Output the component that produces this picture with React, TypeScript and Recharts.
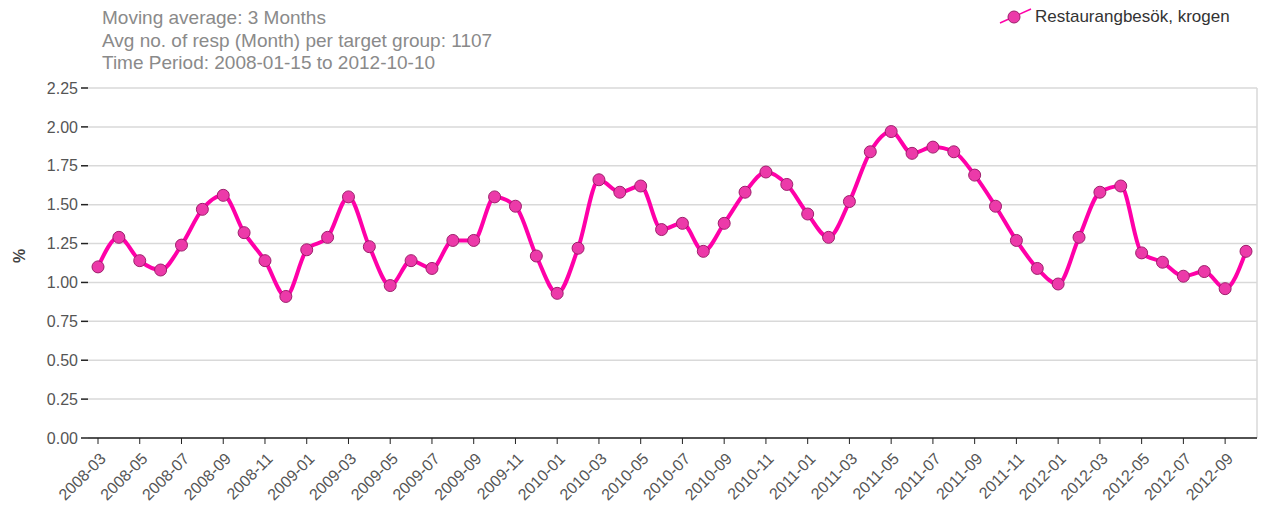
import * as React from "react";
import {
  CartesianGrid,
  Line,
  LineChart,
  XAxis,
  YAxis,
} from "recharts";

const MONTHS = [
  "2008-03", "2008-04", "2008-05", "2008-06", "2008-07", "2008-08", "2008-09", "2008-10", "2008-11", "2008-12",
  "2009-01", "2009-02", "2009-03", "2009-04", "2009-05", "2009-06", "2009-07", "2009-08", "2009-09", "2009-10",
  "2009-11", "2009-12", "2010-01", "2010-02", "2010-03", "2010-04", "2010-05", "2010-06", "2010-07", "2010-08",
  "2010-09", "2010-10", "2010-11", "2010-12", "2011-01", "2011-02", "2011-03", "2011-04", "2011-05", "2011-06",
  "2011-07", "2011-08", "2011-09", "2011-10", "2011-11", "2011-12", "2012-01", "2012-02", "2012-03", "2012-04",
  "2012-05", "2012-06", "2012-07", "2012-08", "2012-09", "2012-10",
];

const KROGEN = [
  1.1, 1.29, 1.14, 1.08, 1.24, 1.47, 1.56, 1.32, 1.14, 0.91,
  1.21, 1.29, 1.55, 1.23, 0.98, 1.14, 1.09, 1.27, 1.27, 1.55,
  1.49, 1.17, 0.93, 1.22, 1.66, 1.58, 1.62, 1.34, 1.38, 1.2,
  1.38, 1.58, 1.71, 1.63, 1.44, 1.29, 1.52, 1.84, 1.97, 1.83,
  1.87, 1.84, 1.69, 1.49, 1.27, 1.09, 0.99, 1.29, 1.58, 1.62,
  1.19, 1.13, 1.04, 1.07, 0.96, 1.2,
];

const Y_TICKS = [0, 0.25, 0.5, 0.75, 1, 1.25, 1.5, 1.75, 2, 2.25];

const HEADER_LINES = [
  "Moving average: 3 Months",
  "Avg no. of resp (Month) per target group: 1107",
  "Time Period: 2008-01-15 to 2012-10-10",
];

const SERIES_NAME = "Restaurangbesök, krogen";

const LINE = "#ff00a8";
const DOT_FILL = "#ec3aa9";
const DOT_STROKE = "#9e1f6c";
const FONT = "'Liberation Sans', Arial, sans-serif";

const data = MONTHS.map((m, i) => ({ month: m, value: KROGEN[i] }));

// rotated month label, its end sits just right of and below the tick
function XTick({ x, y, payload }: any) {
  return (
    <g transform={`translate(${x},${y})`}>
      <text
        x={-3.5}
        y={16}
        textAnchor="end"
        transform="rotate(-45)"
        fill="#555"
        fontSize={16}
        fontFamily={FONT}
      >
        {payload.value}
      </text>
    </g>
  );
}

export default function App() {
  return (
    <div style={{ position: "absolute", left: 0, top: 0, width: 1262, height: 506, fontFamily: FONT }}>
      <div style={{ position: "absolute", left: 102, top: 7, color: "#8a8a8a", fontSize: 19, lineHeight: "22.5px" }}>
        {HEADER_LINES.map((l) => (
          <div key={l}>{l}</div>
        ))}
      </div>
      <div style={{ position: "absolute", left: 999, top: 6, display: "flex", alignItems: "center", color: "#333", fontSize: 17 }}>
        <svg width={33} height={22}>
          <line x1={1} y1={17} x2={32} y2={3} stroke={LINE} strokeWidth={1.5} />
          <circle cx={15} cy={11} r={6} fill={DOT_FILL} stroke={DOT_STROKE} strokeWidth={1} />
        </svg>
        <span style={{ marginLeft: 3 }}>{SERIES_NAME}</span>
      </div>
      <LineChart width={1262} height={506} data={data} margin={{ top: 88, right: 5, left: 0, bottom: 0 }}>
        <CartesianGrid
          stroke="#d9d9d9"
          strokeWidth={1.5}
          vertical
          verticalCoordinatesGenerator={({ offset }: any) => [offset.left + offset.width]}
        />
        <XAxis
          dataKey="month"
          interval={1}
          padding={{ left: 10, right: 11 }}
          height={68}
          tick={<XTick />}
          tickLine={{ stroke: "#222" }}
          tickSize={6}
          axisLine={{ stroke: "#222", strokeWidth: 1.5 }}
        />
        <YAxis
          width={88}
          domain={[0, 2.25]}
          ticks={Y_TICKS}
          tickFormatter={(v: number) => v.toFixed(2)}
          tick={{ fill: "#555", fontSize: 16, fontFamily: FONT }}
          tickLine={{ stroke: "#222", strokeWidth: 1.5 }}
          tickSize={7}
          tickMargin={3}
          axisLine={false}
          label={{
            value: "%",
            angle: -90,
            position: "insideLeft",
            offset: 19,
            style: { fill: "#444", fontSize: 16, fontWeight: 700, fontFamily: FONT },
          }}
        />
        <Line
          type="monotone"
          dataKey="value"
          name={SERIES_NAME}
          stroke={LINE}
          strokeWidth={4}
          dot={{ r: 6, fill: DOT_FILL, stroke: DOT_STROKE, strokeWidth: 1 }}
          activeDot={false}
          isAnimationActive={false}
        />
      </LineChart>
    </div>
  );
}
